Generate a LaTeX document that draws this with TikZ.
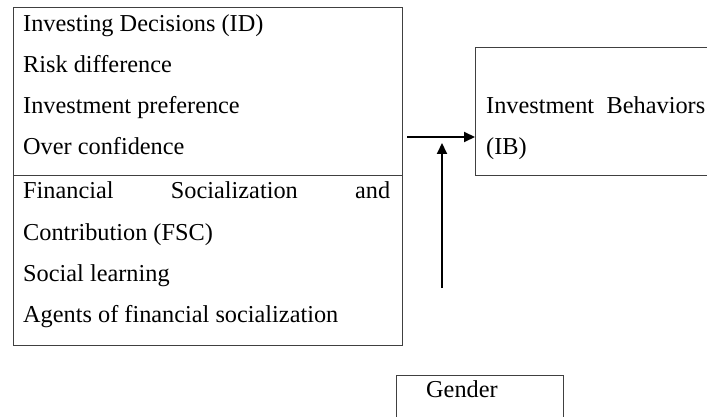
\documentclass[tikz,border=0pt]{standalone}
\usepackage{fontspec}
\setmainfont{Liberation Serif}
\usetikzlibrary{arrows.meta}
\begin{document}
\begin{tikzpicture}[x=1pt,y=-1pt,
  boxst/.style={draw=black!75,line width=1.1pt,inner sep=0pt,anchor=north west},
  txt/.style={anchor=base west,inner sep=0pt,font=\fontsize{24.3}{29}\selectfont},
  arr/.style={line width=2pt,-{Triangle[length=11pt,width=10pt]}}]
\useasboundingbox (0,0) rectangle (707,417);
% boxes
\node[boxst,minimum width=389pt,minimum height=168pt] (id) at (13,7) {};
\node[boxst,minimum width=389pt,minimum height=170pt] (fsc) at (13,175) {};
\node[boxst,minimum width=250pt,minimum height=128pt] (ib) at (475,47) {};
\node[boxst,minimum width=167pt,minimum height=60pt] (gender) at (396,375) {};
% ID texts
\node[txt] (t1) at (23,32) {Investing Decisions (ID)};
\node[txt] (t2) at (23,73) {Risk difference};
\node[txt] (t3) at (23,114) {Investment preference};
\node[txt] (t4) at (23,155) {Over confidence};
% FSC texts
\node[txt] (f1) at (23,198) {\makebox[367pt][s]{Financial Socialization and}};
\node[txt] (f2) at (23,240) {Contribution (FSC)};
\node[txt] (f3) at (23,281) {Social learning};
\node[txt] (f4) at (23,322) {Agents of financial socialization};
% IB texts
\node[txt] (ib1) at (486,114) {\makebox[219pt][s]{Investment Behaviors}};
\node[txt] (ib2) at (486,155) {(IB)};
% Gender
\node[txt] (g) at (426,397) {Gender};
% arrows
\coordinate (hs) at (407,137);
\coordinate (vs) at (442,288);
\coordinate (ve) at (442,143);
\draw[arr] (hs) -- (hs -| ib.west);
\draw[arr] (vs) -- (ve);
\end{tikzpicture}
\end{document}
